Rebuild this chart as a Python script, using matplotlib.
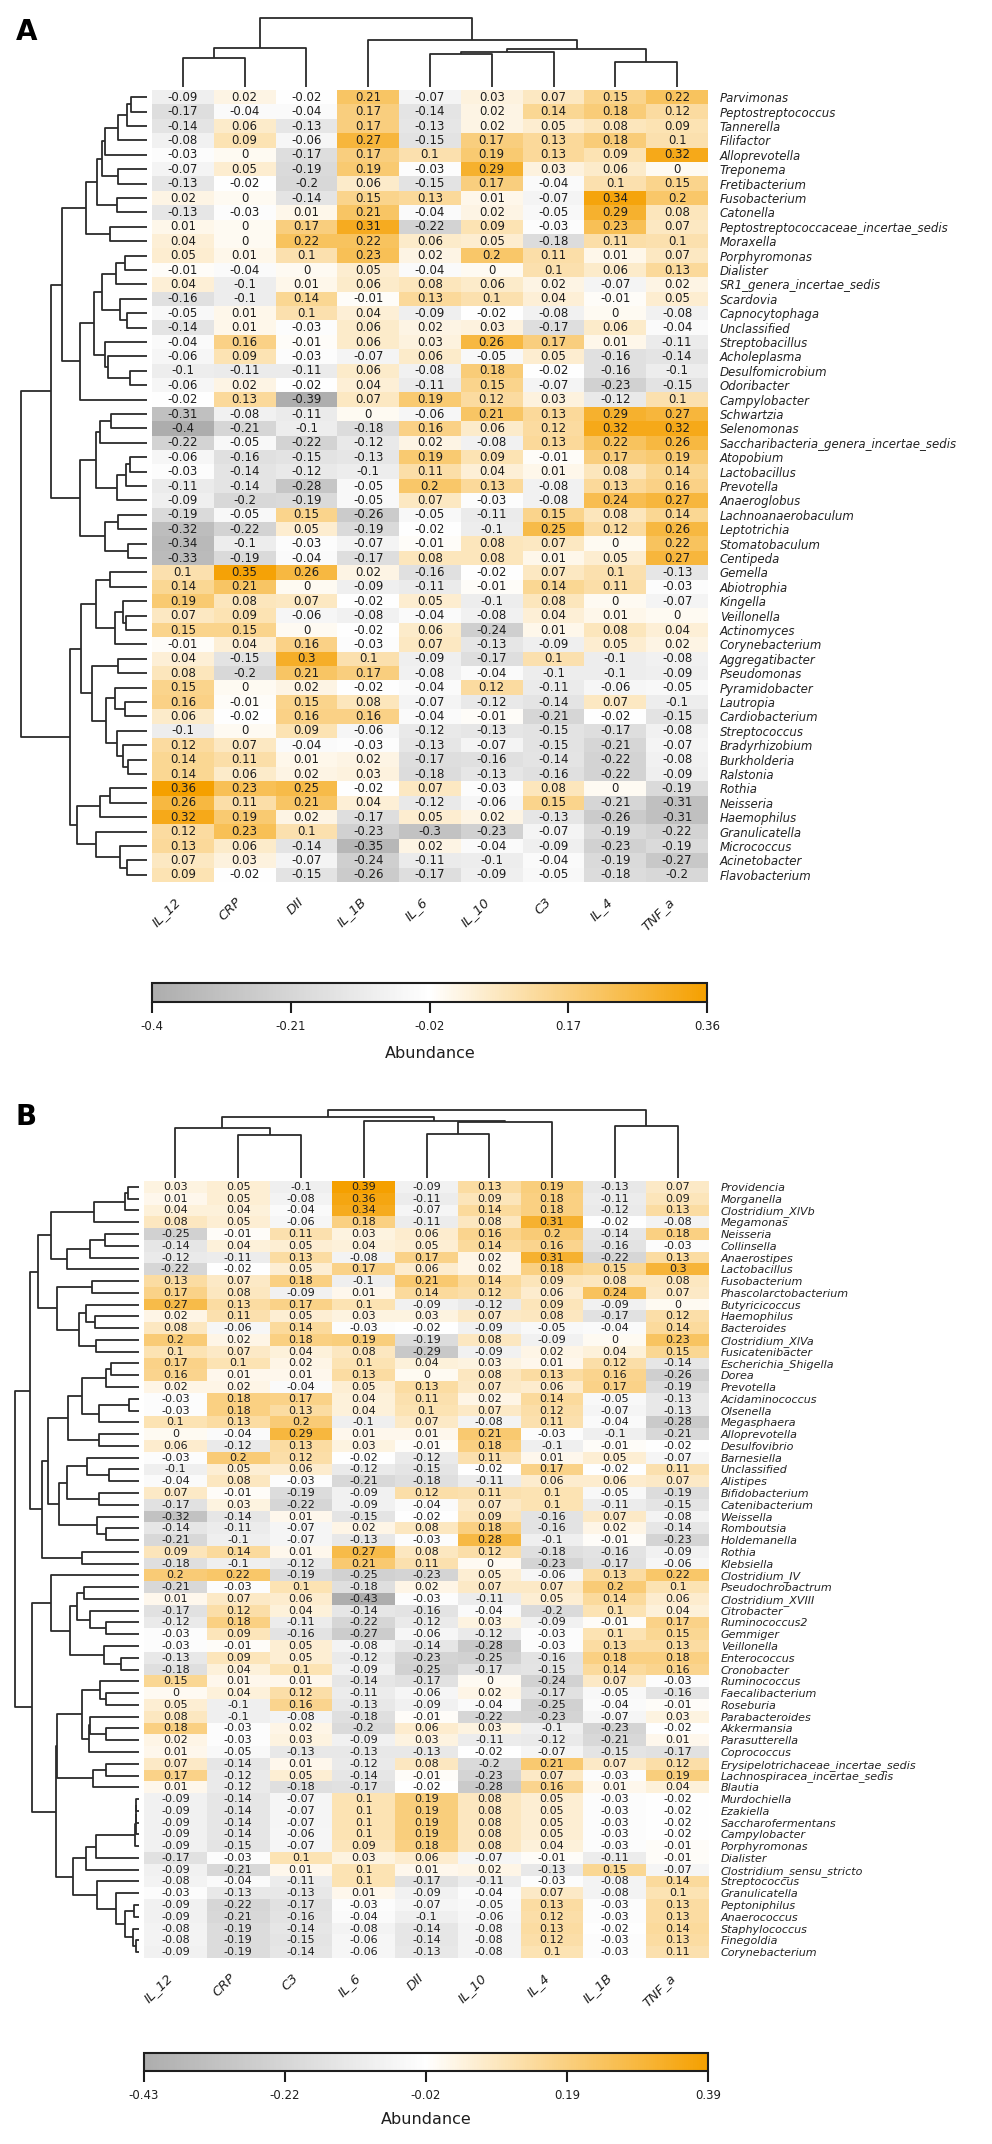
import matplotlib
matplotlib.use("Agg")
import matplotlib.pyplot as plt
from matplotlib.colors import LinearSegmentedColormap, Normalize
from matplotlib.cm import ScalarMappable

# ---------------- Panel A data ----------------
cols_a = ["IL_12", "CRP", "DII", "IL_1B", "IL_6", "IL_10", "C3", "IL_4", "TNF_a"]
rows_a = ["Parvimonas", "Peptostreptococcus", "Tannerella", "Filifactor", "Alloprevotella",
          "Treponema", "Fretibacterium", "Fusobacterium", "Catonella",
          "Peptostreptococcaceae_incertae_sedis", "Moraxella", "Porphyromonas", "Dialister",
          "SR1_genera_incertae_sedis", "Scardovia", "Capnocytophaga", "Unclassified",
          "Streptobacillus", "Acholeplasma", "Desulfomicrobium", "Odoribacter", "Campylobacter",
          "Schwartzia", "Selenomonas", "Saccharibacteria_genera_incertae_sedis", "Atopobium",
          "Lactobacillus", "Prevotella", "Anaeroglobus", "Lachnoanaerobaculum", "Leptotrichia",
          "Stomatobaculum", "Centipeda", "Gemella", "Abiotrophia", "Kingella", "Veillonella",
          "Actinomyces", "Corynebacterium", "Aggregatibacter", "Pseudomonas", "Pyramidobacter",
          "Lautropia", "Cardiobacterium", "Streptococcus", "Bradyrhizobium", "Burkholderia",
          "Ralstonia", "Rothia", "Neisseria", "Haemophilus", "Granulicatella", "Micrococcus",
          "Acinetobacter", "Flavobacterium"]
vals_a = [
    [-0.09, 0.02, -0.02, 0.21, -0.07, 0.03, 0.07, 0.15, 0.22],
    [-0.17, -0.04, -0.04, 0.17, -0.14, 0.02, 0.14, 0.18, 0.12],
    [-0.14, 0.06, -0.13, 0.17, -0.13, 0.02, 0.05, 0.08, 0.09],
    [-0.08, 0.09, -0.06, 0.27, -0.15, 0.17, 0.13, 0.18, 0.10],
    [-0.03, 0.00, -0.17, 0.17, 0.10, 0.19, 0.13, 0.09, 0.32],
    [-0.07, 0.05, -0.19, 0.19, -0.03, 0.29, 0.03, 0.06, 0.00],
    [-0.13, -0.02, -0.20, 0.06, -0.15, 0.17, -0.04, 0.10, 0.15],
    [0.02, 0.00, -0.14, 0.15, 0.13, 0.01, -0.07, 0.34, 0.20],
    [-0.13, -0.03, 0.01, 0.21, -0.04, 0.02, -0.05, 0.29, 0.08],
    [0.01, 0.00, 0.17, 0.31, -0.22, 0.09, -0.03, 0.23, 0.07],
    [0.04, 0.00, 0.22, 0.22, 0.06, 0.05, -0.18, 0.11, 0.10],
    [0.05, 0.01, 0.10, 0.23, 0.02, 0.20, 0.11, 0.01, 0.07],
    [-0.01, -0.04, 0.00, 0.05, -0.04, 0.00, 0.10, 0.06, 0.13],
    [0.04, -0.10, 0.01, 0.06, 0.08, 0.06, 0.02, -0.07, 0.02],
    [-0.16, -0.10, 0.14, -0.01, 0.13, 0.10, 0.04, -0.01, 0.05],
    [-0.05, 0.01, 0.10, 0.04, -0.09, -0.02, -0.08, 0.00, -0.08],
    [-0.14, 0.01, -0.03, 0.06, 0.02, 0.03, -0.17, 0.06, -0.04],
    [-0.04, 0.16, -0.01, 0.06, 0.03, 0.26, 0.17, 0.01, -0.11],
    [-0.06, 0.09, -0.03, -0.07, 0.06, -0.05, 0.05, -0.16, -0.14],
    [-0.10, -0.11, -0.11, 0.06, -0.08, 0.18, -0.02, -0.16, -0.10],
    [-0.06, 0.02, -0.02, 0.04, -0.11, 0.15, -0.07, -0.23, -0.15],
    [-0.02, 0.13, -0.39, 0.07, 0.19, 0.12, 0.03, -0.12, 0.10],
    [-0.31, -0.08, -0.11, 0.00, -0.06, 0.21, 0.13, 0.29, 0.27],
    [-0.40, -0.21, -0.10, -0.18, 0.16, 0.06, 0.12, 0.32, 0.32],
    [-0.22, -0.05, -0.22, -0.12, 0.02, -0.08, 0.13, 0.22, 0.26],
    [-0.06, -0.16, -0.15, -0.13, 0.19, 0.09, -0.01, 0.17, 0.19],
    [-0.03, -0.14, -0.12, -0.10, 0.11, 0.04, 0.01, 0.08, 0.14],
    [-0.11, -0.14, -0.28, -0.05, 0.20, 0.13, -0.08, 0.13, 0.16],
    [-0.09, -0.20, -0.19, -0.05, 0.07, -0.03, -0.08, 0.24, 0.27],
    [-0.19, -0.05, 0.15, -0.26, -0.05, -0.11, 0.15, 0.08, 0.14],
    [-0.32, -0.22, 0.05, -0.19, -0.02, -0.10, 0.25, 0.12, 0.26],
    [-0.34, -0.10, -0.03, -0.07, -0.01, 0.08, 0.07, 0.00, 0.22],
    [-0.33, -0.19, -0.04, -0.17, 0.08, 0.08, 0.01, 0.05, 0.27],
    [0.10, 0.35, 0.26, 0.02, -0.16, -0.02, 0.07, 0.10, -0.13],
    [0.14, 0.21, 0.00, -0.09, -0.11, -0.01, 0.14, 0.11, -0.03],
    [0.19, 0.08, 0.07, -0.02, 0.05, -0.10, 0.08, 0.00, -0.07],
    [0.07, 0.09, -0.06, -0.08, -0.04, -0.08, 0.04, 0.01, 0.00],
    [0.15, 0.15, 0.00, -0.02, 0.06, -0.24, 0.01, 0.08, 0.04],
    [-0.01, 0.04, 0.16, -0.03, 0.07, -0.13, -0.09, 0.05, 0.02],
    [0.04, -0.15, 0.30, 0.10, -0.09, -0.17, 0.10, -0.10, -0.08],
    [0.08, -0.20, 0.21, 0.17, -0.08, -0.04, -0.10, -0.10, -0.09],
    [0.15, 0.00, 0.02, -0.02, -0.04, 0.12, -0.11, -0.06, -0.05],
    [0.16, -0.01, 0.15, 0.08, -0.07, -0.12, -0.14, 0.07, -0.10],
    [0.06, -0.02, 0.16, 0.16, -0.04, -0.01, -0.21, -0.02, -0.15],
    [-0.10, 0.00, 0.09, -0.06, -0.12, -0.13, -0.15, -0.17, -0.08],
    [0.12, 0.07, -0.04, -0.03, -0.13, -0.07, -0.15, -0.21, -0.07],
    [0.14, 0.11, 0.01, 0.02, -0.17, -0.16, -0.14, -0.22, -0.08],
    [0.14, 0.06, 0.02, 0.03, -0.18, -0.13, -0.16, -0.22, -0.09],
    [0.36, 0.23, 0.25, -0.02, 0.07, -0.03, 0.08, 0.00, -0.19],
    [0.26, 0.11, 0.21, 0.04, -0.12, -0.06, 0.15, -0.21, -0.31],
    [0.32, 0.19, 0.02, -0.17, 0.05, 0.02, -0.13, -0.26, -0.31],
    [0.12, 0.23, 0.10, -0.23, -0.30, -0.23, -0.07, -0.19, -0.22],
    [0.13, 0.06, -0.14, -0.35, 0.02, -0.04, -0.09, -0.23, -0.19],
    [0.07, 0.03, -0.07, -0.24, -0.11, -0.10, -0.04, -0.19, -0.27],
    [0.09, -0.02, -0.15, -0.26, -0.17, -0.09, -0.05, -0.18, -0.20],
]
cbar_ticks_a = [-0.40, -0.21, -0.02, 0.17, 0.36]
cbar_labels_a = ["-0.4", "-0.21", "-0.02", "0.17", "0.36"]

# dendrograms: (left, right, merge height); ints are leaf indices
col_tree_a = (((0, 1, 29), 2, 39), (3, (((4, 5, 33), 6, 35), (7, 8, 25), 38), 47), 69)
a0_4 = ((((0, 1, 16), 2, 20), 3, 29), 4, 42)
a0_6 = (a0_4, (5, 6, 29), 45)
a0_8 = (a0_6, (7, 8, 30), 50)
a0_10 = (a0_8, (9, 10, 37), 61)
a11_16 = (((11, 12, 22), 13, 31), (14, (15, 16, 20), 27), 45)
a17_20 = (17, (18, (19, 20, 17), 39), 42)
a11_21 = ((a11_16, a17_20, 53), 21, 67)
a0_21 = (a0_10, a11_21, 85)
a22_28 = (((22, 23, 36), 24, 47), (((25, 26, 17), 27, 21), 28, 30), 51)
a29_32 = ((29, 30, 29), (31, 32, 19), 42)
a0_32 = (a0_21, (a22_28, a29_32, 67), 96)
a33_38 = ((33, 34, 37), ((35, (36, 37, 21), 24), 38, 32), 51)
a39_47 = ((39, 40, 29), ((41, (42, 43, 22), 32), (44, (45, (46, 47, 19), 24), 30), 41), 55)
a48_54 = (((48, 49, 37), 50, 47), (51, (52, (53, 54, 20), 27), 51), 70)
a33_54 = ((a33_38, a39_47, 66), a48_54, 77)
row_tree_a = (a0_32, a33_54, 126)

# ---------------- Panel B data ----------------
cols_b = ["IL_12", "CRP", "C3", "IL_6", "DII", "IL_10", "IL_4", "IL_1B", "TNF_a"]
rows_b = ["Providencia", "Morganella", "Clostridium_XlVb", "Megamonas", "Neisseria",
          "Collinsella", "Anaerostipes", "Lactobacillus", "Fusobacterium",
          "Phascolarctobacterium", "Butyricicoccus", "Haemophilus", "Bacteroides",
          "Clostridium_XlVa", "Fusicatenibacter", "Escherichia_Shigella", "Dorea", "Prevotella",
          "Acidaminococcus", "Olsenella", "Megasphaera", "Alloprevotella", "Desulfovibrio",
          "Barnesiella", "Unclassified", "Alistipes", "Bifidobacterium", "Catenibacterium",
          "Weissella", "Romboutsia", "Holdemanella", "Rothia", "Klebsiella", "Clostridium_IV",
          "Pseudochrobactrum", "Clostridium_XVIII", "Citrobacter", "Ruminococcus2", "Gemmiger",
          "Veillonella", "Enterococcus", "Cronobacter", "Ruminococcus", "Faecalibacterium",
          "Roseburia", "Parabacteroides", "Akkermansia", "Parasutterella", "Coprococcus",
          "Erysipelotrichaceae_incertae_sedis", "Lachnospiracea_incertae_sedis", "Blautia",
          "Murdochiella", "Ezakiella", "Saccharofermentans", "Campylobacter", "Porphyromonas",
          "Dialister", "Clostridium_sensu_stricto", "Streptococcus", "Granulicatella",
          "Peptoniphilus", "Anaerococcus", "Staphylococcus", "Finegoldia", "Corynebacterium"]
vals_b = [
    [0.03, 0.05, -0.10, 0.39, -0.09, 0.13, 0.19, -0.13, 0.07],
    [0.01, 0.05, -0.08, 0.36, -0.11, 0.09, 0.18, -0.11, 0.09],
    [0.04, 0.04, -0.04, 0.34, -0.07, 0.14, 0.18, -0.12, 0.13],
    [0.08, 0.05, -0.06, 0.18, -0.11, 0.08, 0.31, -0.02, -0.08],
    [-0.25, -0.01, 0.11, 0.03, 0.06, 0.16, 0.20, -0.14, 0.18],
    [-0.14, 0.04, 0.05, 0.04, 0.05, 0.14, 0.16, -0.16, -0.03],
    [-0.12, -0.11, 0.13, -0.08, 0.17, 0.02, 0.31, -0.22, 0.13],
    [-0.22, -0.02, 0.05, 0.17, 0.06, 0.02, 0.18, 0.15, 0.30],
    [0.13, 0.07, 0.18, -0.10, 0.21, 0.14, 0.09, 0.08, 0.08],
    [0.17, 0.08, -0.09, 0.01, 0.14, 0.12, 0.06, 0.24, 0.07],
    [0.27, 0.13, 0.17, 0.10, -0.09, -0.12, 0.09, -0.09, 0.00],
    [0.02, 0.11, 0.05, 0.03, 0.03, 0.07, 0.08, -0.17, 0.12],
    [0.08, -0.06, 0.14, -0.03, -0.02, -0.09, -0.05, -0.04, 0.14],
    [0.20, 0.02, 0.18, 0.19, -0.19, 0.08, -0.09, 0.00, 0.23],
    [0.10, 0.07, 0.04, 0.08, -0.29, -0.09, 0.02, 0.04, 0.15],
    [0.17, 0.10, 0.02, 0.10, 0.04, 0.03, 0.01, 0.12, -0.14],
    [0.16, 0.01, 0.01, 0.13, 0.00, 0.08, 0.13, 0.16, -0.26],
    [0.02, 0.02, -0.04, 0.05, 0.13, 0.07, 0.06, 0.17, -0.19],
    [-0.03, 0.18, 0.17, 0.04, 0.11, 0.02, 0.14, -0.05, -0.13],
    [-0.03, 0.18, 0.13, 0.04, 0.10, 0.07, 0.12, -0.07, -0.13],
    [0.10, 0.13, 0.20, -0.10, 0.07, -0.08, 0.11, -0.04, -0.28],
    [0.00, -0.04, 0.29, 0.01, 0.01, 0.21, -0.03, -0.10, -0.21],
    [0.06, -0.12, 0.13, 0.03, -0.01, 0.18, -0.10, -0.01, -0.02],
    [-0.03, 0.20, 0.12, -0.02, -0.12, 0.11, 0.01, 0.05, -0.07],
    [-0.10, 0.05, 0.06, -0.12, -0.15, -0.02, 0.17, -0.02, 0.11],
    [-0.04, 0.08, -0.03, -0.21, -0.18, -0.11, 0.06, 0.06, 0.07],
    [0.07, -0.01, -0.19, -0.09, 0.12, 0.11, 0.10, -0.05, -0.19],
    [-0.17, 0.03, -0.22, -0.09, -0.04, 0.07, 0.10, -0.11, -0.15],
    [-0.32, -0.14, 0.01, -0.15, -0.02, 0.09, -0.16, 0.07, -0.08],
    [-0.14, -0.11, -0.07, 0.02, 0.08, 0.18, -0.16, 0.02, -0.14],
    [-0.21, -0.10, -0.07, -0.13, -0.03, 0.28, -0.10, -0.01, -0.23],
    [0.09, 0.14, 0.01, 0.27, 0.08, 0.12, -0.18, -0.16, -0.09],
    [-0.18, -0.10, -0.12, 0.21, 0.11, 0.00, -0.23, -0.17, -0.06],
    [0.20, 0.22, -0.19, -0.25, -0.23, 0.05, -0.06, 0.13, 0.22],
    [-0.21, -0.03, 0.10, -0.18, 0.02, 0.07, 0.07, 0.20, 0.10],
    [0.01, 0.07, 0.06, -0.43, -0.03, -0.11, 0.05, 0.14, 0.06],
    [-0.17, 0.12, 0.04, -0.14, -0.16, -0.04, -0.20, 0.10, 0.04],
    [-0.12, 0.18, -0.11, -0.22, -0.12, 0.03, -0.09, -0.01, 0.17],
    [-0.03, 0.09, -0.16, -0.27, -0.06, -0.12, -0.03, 0.10, 0.15],
    [-0.03, -0.01, 0.05, -0.08, -0.14, -0.28, -0.03, 0.13, 0.13],
    [-0.13, 0.09, 0.05, -0.12, -0.23, -0.25, -0.16, 0.18, 0.18],
    [-0.18, 0.04, 0.10, -0.09, -0.25, -0.17, -0.15, 0.14, 0.16],
    [0.15, 0.01, 0.01, -0.14, -0.17, 0.00, -0.24, 0.07, -0.03],
    [0.00, 0.04, 0.12, -0.11, -0.06, 0.02, -0.17, -0.05, -0.16],
    [0.05, -0.10, 0.16, -0.13, -0.09, -0.04, -0.25, -0.04, -0.01],
    [0.08, -0.10, -0.08, -0.18, -0.01, -0.22, -0.23, -0.07, 0.03],
    [0.18, -0.03, 0.02, -0.20, 0.06, 0.03, -0.10, -0.23, -0.02],
    [0.02, -0.03, 0.03, -0.09, 0.03, -0.11, -0.12, -0.21, 0.01],
    [0.01, -0.05, -0.13, -0.13, -0.13, -0.02, -0.07, -0.15, -0.17],
    [0.07, -0.14, 0.01, -0.12, 0.08, -0.20, 0.21, 0.07, 0.12],
    [0.17, -0.12, 0.05, -0.14, -0.01, -0.23, 0.07, -0.03, 0.19],
    [0.01, -0.12, -0.18, -0.17, -0.02, -0.28, 0.16, 0.01, 0.04],
    [-0.09, -0.14, -0.07, 0.10, 0.19, 0.08, 0.05, -0.03, -0.02],
    [-0.09, -0.14, -0.07, 0.10, 0.19, 0.08, 0.05, -0.03, -0.02],
    [-0.09, -0.14, -0.07, 0.10, 0.19, 0.08, 0.05, -0.03, -0.02],
    [-0.09, -0.14, -0.06, 0.10, 0.19, 0.08, 0.05, -0.03, -0.02],
    [-0.09, -0.15, -0.07, 0.09, 0.18, 0.08, 0.04, -0.03, -0.01],
    [-0.17, -0.03, 0.10, 0.03, 0.06, -0.07, -0.01, -0.11, -0.01],
    [-0.09, -0.21, 0.01, 0.10, 0.01, 0.02, -0.13, 0.15, -0.07],
    [-0.08, -0.04, -0.11, 0.10, -0.17, -0.11, -0.03, -0.08, 0.14],
    [-0.03, -0.13, -0.13, 0.01, -0.09, -0.04, 0.07, -0.08, 0.10],
    [-0.09, -0.22, -0.17, -0.03, -0.07, -0.05, 0.13, -0.03, 0.13],
    [-0.09, -0.21, -0.16, -0.04, -0.10, -0.06, 0.12, -0.03, 0.13],
    [-0.08, -0.19, -0.14, -0.08, -0.14, -0.08, 0.13, -0.02, 0.14],
    [-0.08, -0.19, -0.15, -0.06, -0.14, -0.08, 0.12, -0.03, 0.13],
    [-0.09, -0.19, -0.14, -0.06, -0.13, -0.08, 0.10, -0.03, 0.11],
]
cbar_ticks_b = [-0.43, -0.225, -0.02, 0.185, 0.39]
cbar_labels_b = ["-0.43", "-0.22", "-0.02", "0.19", "0.39"]

col_tree_b = (((0, (1, 2, 43), 50), (3, ((4, 5, 44), 6, 56), 57), 61), (7, 8, 52), 68)
b0_7 = ((((0, 1, 11), 2, 14), 3, 45), (((4, 5, 34), 6, 49), 7, 72), 88)
b8_14 = ((8, 9, 47), ((10, (11, 12, 44), 53), (13, 14, 43), 60), 82)
b15_22 = ((((15, 16, 28), 17, 33), ((18, 19, 10), 20, 40), 57), (21, 22, 40), 71)
b23_30 = (((23, (24, 25, 30), 52), (26, 27, 40), 72), (28, (29, 30, 33), 42), 80)
b0_32 = ((b0_7, b8_14, 101), ((b15_22, b23_30, 91), (31, 32, 57), 97), 109)
b33_41 = (33, (((34, 35, 55), (36, (37, 38, 33), 49), 62), (39, (40, 41, 18), 35), 69), 88)
b42_51 = (((42, (43, 44, 33), 39), ((45, (46, 47, 33), 49), 48, 50), 57),
          ((49, 50, 33), 51, 46), 82)
b52_58 = ((((((52, 53, 3), 54, 3), 55, 3), 56, 4), 57, 43), 58, 53)
b59_65 = (59, (60, ((61, 62, 5), (63, (64, 65, 3), 6), 14), 23), 42)
b33_65 = (b33_41, (b42_51, (b52_58, b59_65, 66), 83), 107)
row_tree_b = (b0_32, b33_65, 124)

# ---------------- drawing ----------------
W, H = 992, 2144
plt.rcParams["font.family"] = ["DejaVu Sans"]
fig = plt.figure(figsize=(W / 100, H / 100), dpi=100)

cmap = LinearSegmentedColormap.from_list("abund", ["#adadad", "#ffffff", "#f5a000"])
LINE = "#2b2b2b"


def box(x0, y0, x1, y1):
    return [x0 / W, 1 - y1 / H, (x1 - x0) / W, (y1 - y0) / H]


def segments(tree):
    segs = []

    def rec(node):
        if isinstance(node, int):
            return float(node), 0.0
        a, b, h = node
        pa, ha = rec(a)
        pb, hb = rec(b)
        segs.append(([ha, h, h, hb], [pa, pa, pb, pb]))
        return (pa + pb) / 2.0, h

    rec(tree)
    return segs


def fmt(v):
    s = f"{v:.2f}".rstrip("0").rstrip(".")
    return "0" if s in ("-0", "") else s


def panel(rows, cols, vals, col_tree, row_tree, ticks, tlabels, L):
    nr, nc = len(rows), len(cols)
    flat = [v for r in vals for v in r]
    norm = Normalize(vmin=min(flat), vmax=max(flat))

    ax = fig.add_axes(box(L["hx0"], L["hy0"], L["hx1"], L["hy1"]))
    ax.imshow(vals, cmap=cmap, norm=norm, aspect="auto", interpolation="nearest")
    for i in range(nr):
        for j in range(nc):
            ax.text(j, i, fmt(vals[i][j]), ha="center", va="center",
                    fontsize=L["vfs"], color="#1e1e1e")
    ax.set_xticks(range(nc))
    ax.set_xticklabels(cols, rotation=45, ha="right", va="top",
                       fontstyle="italic", fontsize=9.5, color="#222222")
    ax.tick_params(axis="x", length=0, pad=9.5)
    ax.yaxis.tick_right()
    ax.set_yticks(range(nr))
    ax.set_yticklabels(rows, fontstyle="italic", fontsize=L["rfs"], color="#222222")
    ax.tick_params(axis="y", length=0, pad=8.5)
    for s in ax.spines.values():
        s.set_visible(False)

    rd = fig.add_axes(box(0, L["hy0"], L["leaf"], L["hy1"]))
    for xs, ys in segments(row_tree):
        rd.plot(xs, ys, color=LINE, lw=1.3, clip_on=False, solid_capstyle="butt")
    rd.set_xlim(L["leaf"], 0)
    rd.set_ylim(nr - 0.5, -0.5)
    rd.axis("off")

    cd = fig.add_axes(box(L["hx0"], L["cdtop"], L["hx1"], L["cdbase"]))
    for hs, ps in segments(col_tree):
        cd.plot(ps, hs, color=LINE, lw=1.3, clip_on=False, solid_capstyle="butt")
    cd.set_xlim(-0.5, nc - 0.5)
    cd.set_ylim(0, col_tree[2])
    cd.axis("off")

    cax = fig.add_axes(box(L["hx0"], L["cb0"], L["hx1"] - 1, L["cb1"]))
    cb = fig.colorbar(ScalarMappable(norm=norm, cmap=cmap), cax=cax, orientation="horizontal")
    cb.set_ticks(ticks)
    cb.set_ticklabels(tlabels)
    cax.tick_params(length=8, width=1.5, labelsize=8.5, pad=5, colors="#1e1e1e")
    cb.outline.set_linewidth(1.5)
    cb.outline.set_edgecolor("#1e1e1e")
    fig.text(((L["hx0"] + L["hx1"]) / 2) / W, 1 - L["ab"] / H, "Abundance",
             ha="center", va="center", fontsize=11.5, color="#1e1e1e")

    fig.text(16 / W, 1 - L["lab_y"] / H, L["lab"], ha="left", va="top",
             fontsize=20, fontweight="bold", color="black")


panel(rows_a, cols_a, vals_a, col_tree_a, row_tree_a, cbar_ticks_a, cbar_labels_a,
      dict(hx0=152, hx1=708, hy0=90, hy1=882, leaf=147, cdtop=18, cdbase=87,
           cb0=983, cb1=1002, ab=1053, lab="A", lab_y=18, vfs=8.5, rfs=8.5))
panel(rows_b, cols_b, vals_b, col_tree_b, row_tree_b, cbar_ticks_b, cbar_labels_b,
      dict(hx0=144, hx1=709, hy0=1181, hy1=1958, leaf=139, cdtop=1110, cdbase=1178,
           cb0=2053, cb1=2071, ab=2120, lab="B", lab_y=1103, vfs=8, rfs=8))

fig.savefig("out.png", dpi=100, facecolor="white")
